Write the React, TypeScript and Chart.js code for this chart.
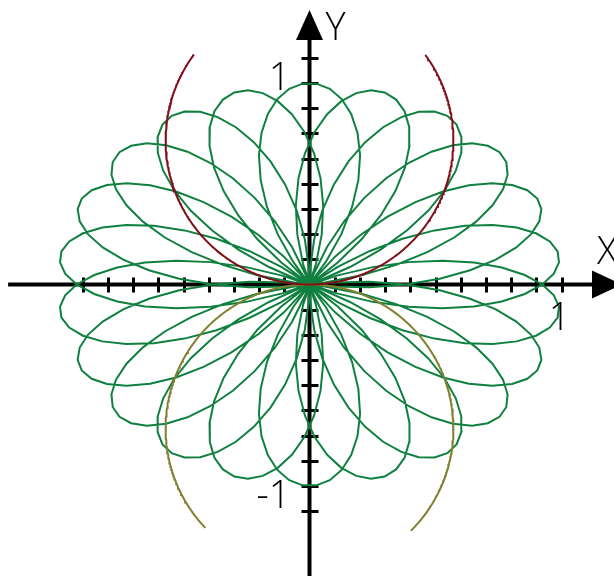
import React, { useEffect, useRef } from 'react';
import { Chart, registerables } from 'chart.js';

Chart.register(...registerables);

// Viewing window in graph units
const X_WINDOW = [-1.2282, 1.2083];
const Y_WINDOW = [-1.4467, 1.4119];

// Axis lines and arrow tips
const X_AXIS_SPAN = [-1.196, 1.19];
const Y_AXIS_SPAN = [-1.45, 1.24];
const X_ARROW_TIP = 1.24;
const Y_ARROW_TIP = 1.362;

// Tick marks
const X_TICKS = [-0.9, -0.8, -0.7, -0.6, -0.5, -0.4, -0.3, -0.2, -0.1, 0.1, 0.2, 0.3, 0.4, 0.5, 0.6, 0.7, 0.8, 0.9, 1.0];
const Y_TICKS = [-1.125, -1, -0.875, -0.75, -0.625, -0.5, -0.375, -0.25, -0.125, 0.125, 0.25, 0.375, 0.5, 0.625, 0.75, 0.875, 1, 1.125];

// Tick labels
const X_TICK_LABELS = [{ value: 1, text: '1' }];
const Y_TICK_LABELS = [{ value: 1, text: '1' }, { value: -1, text: '-1' }];
const AXIS_NAMES = ['X', 'Y'];

// Rose r = A * cos(k * (theta - phase)), k = p / q, theta sampled in equal steps
const ROSE_P = 11;
const ROSE_Q = 4;
const ROSE_AMPLITUDE = 1;
const ROSE_PHASE_DEG = 90;
const ROSE_SEGMENTS = 456;

// Two arcs touching the origin: radii (x, y) and the open gap (degrees)
const ARC_RADII = [0.571, 0.715];
const UPPER_ARC_GAP_DEG = [36.4, 143.4];
const LOWER_ARC_GAP_DEG = [45.2, 136.4];

const GREEN = '#108040';
const DARK_RED = '#801018';
const OLIVE = '#808030';
const LABEL_FONT = '300 38px "Open Sans", "Liberation Sans", sans-serif';

function rosePoints() {
  const k = ROSE_P / ROSE_Q;
  const phase = (ROSE_PHASE_DEG * Math.PI) / 180;
  const end = 2 * Math.PI * ROSE_Q;
  const n = ROSE_SEGMENTS;
  const pts: { x: number; y: number }[] = [];
  for (let i = 0; i <= n; i++) {
    const t = (end * i) / n;
    const r = ROSE_AMPLITUDE * Math.cos(k * (t - phase));
    pts.push({ x: r * Math.cos(t), y: r * Math.sin(t) });
  }
  return pts;
}

function arcPoints(gap: number[], sign: number) {
  const [rx, ry] = ARC_RADII;
  const start = gap[1];
  const stop = gap[0] + 360;
  const pts: { x: number; y: number }[] = [];
  const n = 400;
  for (let i = 0; i <= n; i++) {
    const a = ((start + ((stop - start) * i) / n) * Math.PI) / 180;
    pts.push({ x: rx * Math.cos(a), y: sign * (ry + ry * Math.sin(a)) });
  }
  return pts;
}

const axesPlugin = {
  id: 'cartesianAxes',
  beforeDatasetsDraw(chart: any) {
    const { ctx, scales } = chart;
    const xs = scales.x;
    const ys = scales.y;
    const ox = xs.getPixelForValue(0);
    const oy = ys.getPixelForValue(0);
    ctx.save();
    ctx.strokeStyle = '#000';
    ctx.fillStyle = '#000';
    ctx.lineWidth = 4;
    ctx.beginPath();
    ctx.moveTo(xs.getPixelForValue(X_AXIS_SPAN[0]), oy);
    ctx.lineTo(xs.getPixelForValue(X_AXIS_SPAN[1]), oy);
    ctx.moveTo(ox, ys.getPixelForValue(Y_AXIS_SPAN[0]));
    ctx.lineTo(ox, ys.getPixelForValue(Y_AXIS_SPAN[1]));
    ctx.stroke();

    ctx.lineWidth = 3;
    ctx.beginPath();
    for (const v of X_TICKS) {
      const px = Math.round(xs.getPixelForValue(v)) + 0.5;
      ctx.moveTo(px, oy - 7);
      ctx.lineTo(px, oy + 8);
    }
    for (const v of Y_TICKS) {
      const py = Math.round(ys.getPixelForValue(v)) + 0.5;
      ctx.moveTo(ox - 8, py);
      ctx.lineTo(ox + 9, py);
    }
    ctx.stroke();

    // arrowheads
    const xt = xs.getPixelForValue(X_ARROW_TIP);
    ctx.beginPath();
    ctx.moveTo(xt, oy);
    ctx.lineTo(xt - 30, oy - 14);
    ctx.lineTo(xt - 30, oy + 14);
    ctx.closePath();
    ctx.fill();
    const yt = ys.getPixelForValue(Y_ARROW_TIP);
    ctx.beginPath();
    ctx.moveTo(ox, yt);
    ctx.lineTo(ox - 13.5, yt + 30);
    ctx.lineTo(ox + 13.5, yt + 30);
    ctx.closePath();
    ctx.fill();
    ctx.restore();
  },
  afterDatasetsDraw(chart: any) {
    const { ctx, scales } = chart;
    const xs = scales.x;
    const ys = scales.y;
    const ox = xs.getPixelForValue(0);
    const oy = ys.getPixelForValue(0);
    ctx.save();
    ctx.fillStyle = '#000';
    ctx.font = LABEL_FONT;
    ctx.textBaseline = 'alphabetic';
    for (const l of X_TICK_LABELS) {
      ctx.textAlign = 'center';
      ctx.fillText(l.text, xs.getPixelForValue(l.value) - 2, oy + 46);
    }
    for (const l of Y_TICK_LABELS) {
      ctx.textAlign = 'right';
      const py = ys.getPixelForValue(l.value);
      ctx.fillText(l.text, ox - 19, l.value > 0 ? py + 7 : py + 22);
    }
    ctx.textAlign = 'left';
    ctx.fillText(AXIS_NAMES[0], xs.getPixelForValue(X_ARROW_TIP) - 25, oy - 20);
    ctx.fillText(AXIS_NAMES[1], ox + 16, ys.getPixelForValue(Y_ARROW_TIP) + 30);
    ctx.restore();
  },
};

export default function App() {
  const ref = useRef<HTMLCanvasElement>(null);
  useEffect(() => {
    const canvas = ref.current;
    if (!canvas) return;
    const chart = new Chart(canvas, {
      type: 'scatter',
      data: {
        datasets: [
          {
            data: arcPoints(UPPER_ARC_GAP_DEG, 1),
            showLine: true,
            borderColor: DARK_RED,
            borderWidth: 2,
            pointRadius: 0,
          },
          {
            data: arcPoints(LOWER_ARC_GAP_DEG, -1),
            showLine: true,
            borderColor: OLIVE,
            borderWidth: 2,
            pointRadius: 0,
          },
          {
            data: rosePoints(),
            showLine: true,
            borderColor: GREEN,
            borderWidth: 2,
            pointRadius: 0,
          },
        ],
      },
      options: {
        responsive: false,
        animation: false,
        events: [],
        layout: { padding: 0 },
        plugins: { legend: { display: false }, tooltip: { enabled: false } },
        elements: { line: { tension: 0 } },
        scales: {
          x: { type: 'linear', min: X_WINDOW[0], max: X_WINDOW[1], display: false },
          y: { type: 'linear', min: Y_WINDOW[0], max: Y_WINDOW[1], display: false },
        },
      },
      plugins: [axesPlugin],
    });
    return () => chart.destroy();
  }, []);
  return (
    <canvas
      ref={ref}
      width={614}
      height={576}
      style={{ position: 'fixed', left: 0, top: 0, width: 614, height: 576, background: '#fff' }}
    />
  );
}
